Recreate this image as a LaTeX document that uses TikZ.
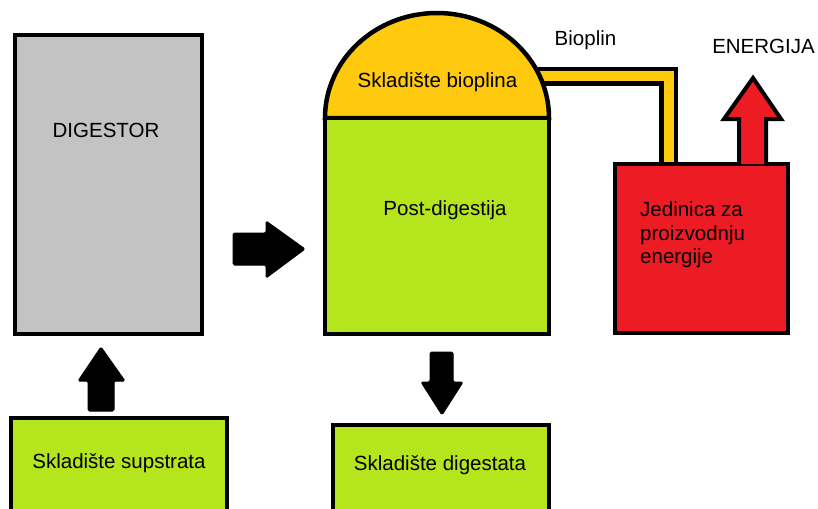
\documentclass[tikz,border=0pt]{standalone}
\usepackage{fontspec}
\setmainfont{Liberation Sans}
\definecolor{grey}{HTML}{C3C3C3}
\definecolor{lime}{HTML}{B5E61D}
\definecolor{gold}{HTML}{FFC90E}
\definecolor{redc}{HTML}{ED1C24}
\begin{document}
\begin{tikzpicture}[x=1pt,y=-1pt,
  box/.style={draw=black,line width=4.5pt,inner sep=0pt,outer sep=0pt},
  lbl/.style={inner sep=0pt,font=\fontsize{20.5}{23.5}\selectfont},
  blockarrow/.style={fill=black,draw=black,line width=1pt,rounded corners=1.5pt,line join=round}]
\useasboundingbox (0,0) rectangle (818,508);
\clip (0,0) rectangle (818,508);
% pipe (drawn first, under dome and red box)
\draw[line width=19pt,line join=miter,black] (520,76.5) -- (668.5,76.5) -- (668.5,170);
\draw[line width=10pt,line join=miter,gold] (520,76.5) -- (668.5,76.5) -- (668.5,170);
% digestor
\node[box,fill=grey,minimum width=187pt,minimum height=299pt] (dig) at (108.5,184.5) {};
\node[lbl] (digt) at (106,130) {DIGESTOR};
% post-digestion tank
\path[fill=gold,draw=black,line width=4.5pt] (325,118) arc[start angle=180,end angle=0,x radius=112,y radius=-105] -- cycle;
\node[box,fill=lime,minimum width=224pt,minimum height=216pt] (post) at (437,226) {};
\coordinate (dome) at (437,66);
\node[lbl] (biot) at (437.5,82) {Skladište bioplina};
\node[lbl] (postt) at (445,210) {Post-digestija};
% energy unit
\node[box,fill=redc,minimum width=173pt,minimum height=169pt] (unit) at (701.5,248.5) {};
\node[lbl,align=left,anchor=west] (unitt) at (640,235) {Jedinica za\\proizvodnju\\energije};
% energy arrow
\path[fill=redc,draw=black,line width=4pt,line join=miter] (739,164) -- (739,119) -- (724,119) -- (753,78) -- (781,119) -- (766,119) -- (766,164);
\node[lbl] (bioplin) at (585.5,40) {Bioplin};
\node[lbl] (energ) at (763.5,46) {ENERGIJA};
% bottom boxes
\node[box,fill=lime,minimum width=216pt,minimum height=112pt] (sups) at (119,474) {};
\node[lbl] (supst) at (119,463) {Skladište supstrata};
\node[box,fill=lime,minimum width=216pt,minimum height=105pt] (dgst) at (441,477.5) {};
\node[lbl] (dgstt) at (440,465) {Skladište digestata};
% block arrows
\path[blockarrow] (88,411) -- (88,381) -- (78,381) -- (101,347) -- (125,381) -- (114,381) -- (114,411) -- cycle;
\path[blockarrow] (430,352) -- (453,352) -- (453,382) -- (463,382) -- (442,415) -- (421,382) -- (430,382) -- cycle;
\path[blockarrow] (233,233) -- (266,233) -- (266,221) -- (305,249) -- (266,278) -- (266,265) -- (233,265) -- cycle;
\end{tikzpicture}
\end{document}
